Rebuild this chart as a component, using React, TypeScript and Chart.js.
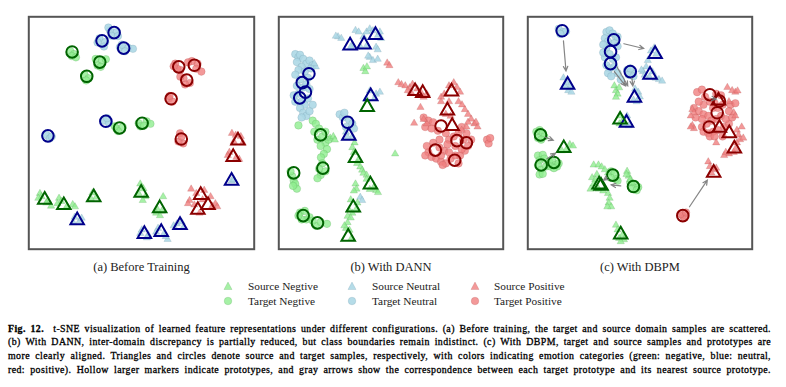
import React, { useEffect, useRef } from "react";
import { Chart, registerables } from "chart.js";
Chart.register(...registerables);

// ---------- t-SNE embeddings (flat x,y pairs), panel (a) Before Training ----------
const aSrcNeg = [105,590, 110,600, 130,612, 100,605, 125,620, 140,630, 165,605, 172,615, 190,630, 160,622, 208,625, 215,632, 270,588, 282,602, 265,606, 420,560, 430,575, 415,590, 436,600, 428,612, 492,600, 475,642, 488,646, 470,652, 482,660];
const aTgtNeg = [200,140, 212,150, 205,156, 218,160, 280,165, 300,170, 312,166, 286,186, 296,190, 245,215, 258,226, 250,233, 345,385, 365,380, 350,393, 340,378, 415,368, 440,362, 452,370, 420,378, 432,376];
const aSrcNeu = [707,550, 714,546, 214,665, 230,676, 210,682, 236,668, 425,705, 445,720, 420,716, 441,730, 476,700, 495,716, 470,712, 506,735, 500,726, 535,686, 525,692, 556,696, 550,680];
const aTgtNeu = [325,75, 346,80, 330,92, 320,66, 350,93, 292,100, 310,112, 306,126, 286,113, 356,128, 382,130, 397,133, 372,141, 362,120, 305,360, 322,368, 316,352, 125,405, 136,416, 142,410];
const aSrcPos = [708,400, 720,406, 742,430, 714,426, 736,410, 700,460, 722,476, 695,470, 731,482, 580,576, 596,590, 575,612, 621,580, 641,600, 656,622, 662,632, 590,626, 570,622, 616,610, 646,630, 606,652];
const aTgtPos = [530,180, 546,200, 536,196, 525,188, 600,180, 612,205, 596,196, 582,172, 570,176, 556,226, 576,241, 561,246, 546,221, 510,290, 521,300, 512,282, 545,400, 555,432, 540,426, 550,410];
// prototypes (a)
const aProtoSrcNeg = [120,610, 180,627, 274,602, 423,588, 481,637];
const aProtoTgtNeg = [206,143, 293,175, 252,220, 355,383, 426,368];
const aProtoSrcNeu = [707,550, 222,675, 433,718, 486,712, 545,690];
const aProtoTgtNeu = [338,82, 300,108, 368,131, 312,362, 130,408];
const aProtoSrcPos = [727,423, 712,475, 610,595, 633,627, 601,642];
const aProtoTgtPos = [541,190, 590,185, 566,232, 517,291, 549,418];

// ---------- panel (b) With DANN ----------
const bSrcNeg = [300,195, 306,205, 311,190, 195,415, 205,410, 210,421, 272,430, 265,445, 270,460, 285,482, 280,495, 290,506, 296,516, 300,526, 310,532, 310,545, 332,572, 340,580, 346,587, 320,577, 275,560, 278,576, 270,582, 260,610, 281,620, 255,642, 265,652, 250,662, 260,667, 276,642, 245,700, 256,706, 250,682, 240,692, 262,732, 400,465];
const bTgtNeg = [95,375, 140,360, 150,370, 160,385, 145,395, 155,420, 170,410, 180,430, 165,440, 185,450, 175,465, 166,476, 170,495, 160,512, 180,520, 165,532, 155,542, 180,395, 190,420, 75,535, 80,550, 85,560, 90,575, 78,566, 70,520, 100,650, 115,645, 120,672, 105,672, 95,660, 130,665, 150,692, 165,680, 185,686, 140,676];
const bSrcNeu = [220,95, 230,100, 213,93, 265,122, 275,75, 285,80, 300,95, 310,80, 320,70, 330,76, 346,90, 356,100, 352,80, 311,122, 340,128, 345,136, 260,127, 290,126, 320,160, 330,170, 315,156, 345,166, 320,266, 335,290, 340,276, 352,270, 310,292, 265,410, 250,412, 245,396, 290,602, 296,612, 150,190, 145,180];
const bTgtNeu = [85,150, 95,160, 100,152, 110,165, 90,175, 120,180, 105,190, 95,200, 85,215, 130,170, 140,185, 115,205, 125,225, 100,230, 90,250, 110,255, 120,245, 130,260, 95,275, 105,300, 115,310, 125,290, 100,320, 110,335, 120,345, 105,350, 130,330, 140,310, 135,195, 80,280, 85,300, 225,340, 235,350, 255,358, 265,370, 245,380, 270,385, 240,335];
const bSrcPos = [375,178, 382,186, 410,240, 420,246, 432,250, 446,256, 455,245, 470,260, 481,270, 500,276, 490,286, 450,270, 440,265, 480,318, 460,368, 545,286, 555,276, 570,250, 585,240, 595,255, 605,270, 600,300, 611,310, 620,325, 630,340, 640,355, 650,370, 660,380, 655,365, 625,380, 610,390, 570,300, 560,340, 575,346, 545,300, 630,365, 500,370, 490,356];
const bTgtPos = [490,350, 505,360, 520,365, 495,380, 515,385, 535,392, 560,400, 570,420, 585,410, 600,400, 615,420, 540,420, 520,430, 500,440, 505,460, 495,470, 515,475, 530,480, 545,490, 560,495, 575,480, 590,470, 605,470, 620,455, 630,440, 610,450, 555,455, 570,460, 545,470, 565,435, 540,445, 600,495, 690,420, 695,432, 700,415, 640,420, 625,400, 610,380, 590,440, 550,500];
const bProtoSrcNeg = [312,317, 275,478, 322,562, 268,635, 252,727];
const bProtoTgtNeg = [165,405, 172,510, 80,525, 110,660, 155,683];
const bProtoSrcNeu = [258,123, 302,120, 338,90, 323,283, 254,408];
const bProtoTgtNeu = [128,212, 107,240, 117,270, 99,288, 250,365];
const bProtoSrcPos = [463,267, 487,273, 578,268, 565,328, 580,377];
const bProtoTgtPos = [545,377, 595,423, 625,430, 527,453, 588,485];

// ---------- panel (c) With DBPM ----------
const cSrcNeg = [280,250, 285,265, 290,276, 285,286, 295,256, 300,345, 306,360, 296,370, 140,435, 150,440, 130,450, 115,455, 215,500, 230,500, 240,506, 250,515, 210,540, 220,546, 215,560, 205,576, 230,576, 245,582, 225,530, 260,525, 320,520, 325,535, 330,546, 335,556, 318,530, 260,590, 265,605, 262,620, 270,632, 258,632, 285,690, 290,705, 305,722, 295,732, 310,736, 300,742];
const cTgtNeg = [35,395, 45,390, 55,400, 60,410, 40,415, 50,420, 40,470, 55,468, 45,485, 60,480, 40,500, 50,515, 65,505, 45,530, 55,528, 75,490, 85,485, 95,500, 100,505, 105,495, 80,505, 90,510, 270,520, 280,528, 285,545, 268,540, 290,550, 330,555, 345,560, 355,570, 335,575, 350,580];
const cSrcNeu = [120,225, 130,240, 140,250, 135,265, 145,270, 125,252, 405,130, 412,150, 395,140, 385,170, 380,190, 370,205, 390,222, 400,206, 410,226, 420,230, 430,235, 375,216, 365,200, 345,260, 355,270, 360,285, 340,295, 350,300, 320,345, 315,370, 325,376];
const cTgtNeu = [105,70, 120,80, 128,78, 110,86, 255,80, 265,75, 275,85, 285,95, 250,100, 260,110, 280,115, 290,125, 255,130, 265,150, 250,160, 275,165, 285,160, 255,185, 265,195, 280,190, 290,210, 260,210, 270,220, 290,95, 245,120, 245,145, 300,230, 320,200, 335,210, 325,215, 340,220, 330,195];
const cSrcPos = [635,255, 650,265, 660,270, 667,266, 640,300, 525,325, 530,335, 520,345, 525,375, 530,385, 520,380, 655,335, 660,345, 665,390, 680,380, 670,405, 675,420, 665,430, 655,460, 640,465, 625,470, 630,460, 600,430, 660,450, 685,415, 575,490, 580,505, 590,515, 600,510, 585,525];
const cTgtPos = [540,270, 555,262, 565,285, 580,300, 595,305, 560,310, 545,300, 530,320, 545,330, 560,340, 575,345, 590,320, 605,320, 620,310, 615,345, 600,355, 585,360, 570,370, 555,380, 560,395, 575,400, 590,395, 605,390, 625,380, 640,370, 630,355, 645,310, 660,305, 555,355, 535,350, 600,275, 615,280, 650,350, 620,410, 580,410, 595,410, 640,330, 495,660, 500,667, 488,655, 505,650];
const cProtoSrcNeg = [298,357, 121,447, 232,562, 238,566, 300,720];
const cProtoTgtNeg = [48,405, 50,500, 90,492, 275,532, 340,568];
const cProtoSrcNeu = [133,247, 408,150, 392,215, 343,288, 318,367];
const cProtoTgtNeu = [116,76, 278,105, 268,142, 268,180, 330,205];
const cProtoSrcPos = [607,297, 610,383, 641,400, 657,448, 592,525];
const cProtoTgtPos = [580,278, 610,298, 603,335, 578,380, 495,660];
// target prototype -> nearest source prototype (x0,y0,x1,y1)
const cArrows = [120,108,128,203, 310,117,372,132, 288,190,322,250, 280,205,315,250, 335,225,338,250, 62,412,88,422, 68,480,95,463, 300,566,270,563, 258,540,246,548, 516,632,572,548, 585,290,600,292];

const SUBTITLES = ["(a) Before Training", "(b) With DANN", "(c) With DBPM"];
const LEGEND_SOURCE = ["Source Negtive", "Source Neutral", "Source Positive"];
const LEGEND_TARGET = ["Target Negtive", "Target Neutral", "Target Positive"];
const CAPTION_LINES = [
  "t-SNE visualization of learned feature representations under different configurations. (a) Before training, the target and source domain samples are scattered.",
  "(b) With DANN, inter-domain discrepancy is partially reduced, but class boundaries remain indistinct. (c) With DBPM, target and source samples and prototypes are",
  "more clearly aligned. Triangles and circles denote source and target samples, respectively, with colors indicating emotion categories (green: negative, blue: neutral,",
  "red: positive). Hollow larger markers indicate prototypes, and gray arrows show the correspondence between each target prototype and its nearest source prototype.",
];

// ---------- styles ----------
const LIGHT = ["rgba(144,238,144,0.8)", "rgba(173,216,230,0.9)", "rgba(240,128,128,0.8)"];
const EDGE = ["rgba(70,150,70,0.35)", "rgba(100,140,160,0.35)", "rgba(170,70,70,0.35)"];
const DARK = ["#006400", "#00008B", "#8B0000"];

const toXY = (a: number[]) => {
  const r: { x: number; y: number }[] = [];
  for (let i = 0; i < a.length; i += 2) r.push({ x: a[i], y: a[i + 1] });
  return r;
};

const arrowPlugin = {
  id: "protoArrows",
  afterDatasetsDraw(chart: any, _args: any, opts: any) {
    const arr: number[] = (opts && opts.data) || [];
    if (!arr.length) return;
    const { ctx, scales } = chart;
    const xs = scales.x, ys = scales.y;
    ctx.save();
    ctx.strokeStyle = "rgba(120,120,120,0.9)";
    ctx.lineWidth = 1.2;
    ctx.lineCap = "round";
    for (let i = 0; i < arr.length; i += 4) {
      const x0 = xs.getPixelForValue(arr[i]), y0 = ys.getPixelForValue(arr[i + 1]);
      const x1 = xs.getPixelForValue(arr[i + 2]), y1 = ys.getPixelForValue(arr[i + 3]);
      const ang = Math.atan2(y1 - y0, x1 - x0);
      const h = 5;
      ctx.beginPath();
      ctx.moveTo(x0, y0);
      ctx.lineTo(x1, y1);
      ctx.moveTo(x1 - h * Math.cos(ang - 0.45), y1 - h * Math.sin(ang - 0.45));
      ctx.lineTo(x1, y1);
      ctx.lineTo(x1 - h * Math.cos(ang + 0.45), y1 - h * Math.sin(ang + 0.45));
      ctx.stroke();
    }
    ctx.restore();
  },
};

const framePlugin = {
  id: "frame",
  afterDraw(chart: any) {
    const { ctx, chartArea: a } = chart;
    ctx.save();
    ctx.strokeStyle = "#555";
    ctx.lineWidth = 2;
    ctx.strokeRect(a.left, a.top, a.right - a.left, a.bottom - a.top);
    ctx.restore();
  },
};

type PanelProps = {
  left: number; top: number; w: number; h: number;
  xr: [number, number]; yr: [number, number];
  small: number[][]; protos: number[][]; arrows: number[];
};

const PAD = 4;

function Panel(p: PanelProps) {
  const ref = useRef<HTMLCanvasElement>(null);
  useEffect(() => {
    if (!ref.current) return;
    const datasets: any[] = [];
    // order: srcNeg, tgtNeg, srcNeu, tgtNeu, srcPos, tgtPos
    p.small.forEach((arr, i) => {
      const cls = Math.floor(i / 2);
      const tri = i % 2 === 0;
      datasets.push({
        data: toXY(arr),
        pointStyle: tri ? "triangle" : "circle",
        pointRadius: tri ? 4.2 : 3.8,
        backgroundColor: LIGHT[cls],
        borderColor: EDGE[cls],
        borderWidth: 0.6,
        order: 2,
      });
    });
    p.protos.forEach((arr, i) => {
      const cls = Math.floor(i / 2);
      const tri = i % 2 === 0;
      datasets.push({
        data: toXY(arr),
        pointStyle: tri ? "triangle" : "circle",
        pointRadius: tri ? 7.8 : 5.8,
        backgroundColor: "rgba(255,255,255,0)",
        borderColor: DARK[cls],
        borderWidth: 2,
        order: 1,
      });
    });
    const chart = new Chart(ref.current, {
      type: "scatter",
      data: { datasets },
      options: {
        animation: false,
        responsive: false,
        devicePixelRatio: 1,
        events: [],
        layout: { padding: PAD },
        plugins: {
          legend: { display: false },
          tooltip: { enabled: false },
          protoArrows: { data: p.arrows },
        } as any,
        scales: {
          x: { type: "linear", min: p.xr[0], max: p.xr[1], display: false },
          y: { type: "linear", min: p.yr[0], max: p.yr[1], reverse: true, display: false },
        },
      },
      plugins: [arrowPlugin, framePlugin],
    });
    return () => chart.destroy();
  }, []);
  return (
    <canvas
      ref={ref}
      width={p.w + 2 * PAD}
      height={p.h + 2 * PAD}
      style={{ position: "absolute", left: p.left - PAD, top: p.top - PAD, width: p.w + 2 * PAD, height: p.h + 2 * PAD }}
    />
  );
}

function Tri({ fill, edge }: { fill: string; edge: string }) {
  return (
    <svg width="10" height="10" style={{ display: "block" }}>
      <polygon points="5,1 9,8.5 1,8.5" fill={fill} stroke={edge} strokeWidth="0.6" />
    </svg>
  );
}
function Dot({ fill, edge }: { fill: string; edge: string }) {
  return (
    <svg width="10" height="10" style={{ display: "block" }}>
      <circle cx="5" cy="5" r="3.8" fill={fill} stroke={edge} strokeWidth="0.6" />
    </svg>
  );
}

export default function App() {
  const serif = "'Liberation Serif', 'Times New Roman', serif";
  const panels: PanelProps[] = [
    { left: 23, top: 11, w: 237, h: 244, xr: [70, 778], yr: [32, 766],
      small: [aSrcNeg, aTgtNeg, aSrcNeu, aTgtNeu, aSrcPos, aTgtPos],
      protos: [aProtoSrcNeg, aProtoTgtNeg, aProtoSrcNeu, aProtoTgtNeu, aProtoSrcPos, aProtoTgtPos], arrows: [] },
    { left: 273, top: 11, w: 236, h: 244, xr: [33, 741], yr: [32, 766],
      small: [bSrcNeg, bTgtNeg, bSrcNeu, bTgtNeu, bSrcPos, bTgtPos],
      protos: [bProtoSrcNeg, bProtoTgtNeg, bProtoSrcNeu, bProtoTgtNeu, bProtoSrcPos, bProtoTgtPos], arrows: [] },
    { left: 522, top: 11, w: 236, h: 244, xr: [8, 713], yr: [32, 766],
      small: [cSrcNeg, cTgtNeg, cSrcNeu, cTgtNeu, cSrcPos, cTgtPos],
      protos: [cProtoSrcNeg, cProtoTgtNeg, cProtoSrcNeu, cProtoTgtNeu, cProtoSrcPos, cProtoTgtPos], arrows: cArrows },
  ];
  const legendX = [228, 352, 475];
  const legendTextX = [248, 372, 494];
  return (
    <div style={{ position: "fixed", left: 0, top: 0, width: 786, height: 387, background: "#fff", overflow: "hidden", fontFamily: serif }}>
      {panels.map((p, i) => <Panel key={i} {...p} />)}
      {SUBTITLES.map((s, i) => {
        const p = panels[i];
        return (
          <div key={s} style={{ position: "absolute", left: p.left, width: p.w, top: 259, lineHeight: "16px", fontSize: 12.5, textAlign: "center", color: "#222" }}>{s}</div>
        );
      })}
      {[LEGEND_SOURCE, LEGEND_TARGET].map((row, r) =>
        row.map((label, c) => (
          <React.Fragment key={label}>
            <div style={{ position: "absolute", left: legendX[c] - 5, top: (r === 0 ? 286 : 301) - 5 }}>
              {r === 0 ? <Tri fill={LIGHT[c]} edge={EDGE[c]} /> : <Dot fill={LIGHT[c]} edge={EDGE[c]} />}
            </div>
            <div style={{ position: "absolute", left: legendTextX[c], top: (r === 0 ? 286 : 301) - 8.5, lineHeight: "16px", fontSize: 11.3, color: "#222", whiteSpace: "nowrap" }}>{label}</div>
          </React.Fragment>
        ))
      )}
      {CAPTION_LINES.map((line, i) => (
        <div key={i} style={{ position: "absolute", left: 8, width: 763, top: 321.5 + i * 13.8, lineHeight: "14px", fontSize: 9.9, letterSpacing: "0.42px", color: "#000", textAlign: "justify", textAlignLast: "justify", WebkitTextStroke: "0.3px #000" } as any}>
          {i === 0 ? <b>Fig. 12.&nbsp;&nbsp;</b> : null}{line}
        </div>
      ))}
    </div>
  );
}
